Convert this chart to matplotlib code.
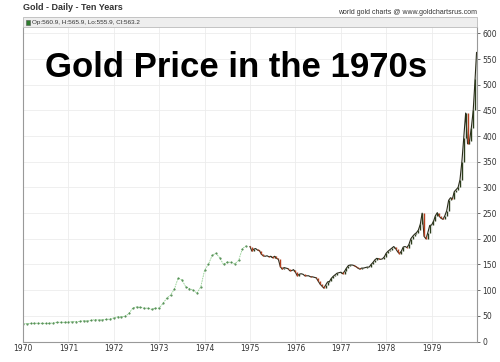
import numpy as np
import matplotlib
matplotlib.use("Agg")
import matplotlib.pyplot as plt
from matplotlib.patches import Rectangle

# monthly closes 1970-1974 (green part)
early_prices = [
    35.0, 35.0, 35.1, 35.6, 35.5, 35.4, 35.3, 35.4, 36.2, 37.5, 37.4, 37.4,
    37.9, 38.7, 38.9, 39.0, 40.5, 40.1, 41.0, 42.8, 42.0, 42.5, 43.0, 43.6,
    46.0, 48.3, 48.3, 49.0, 54.6, 65.0, 67.5, 66.5, 65.0, 64.9, 62.9, 64.9,
    65.1, 74.2, 84.5, 90.5, 102.0, 123.3, 120.0, 106.8, 103.0, 100.1, 94.0, 106.7,
    139.0, 150.0, 168.0, 172.0, 163.0, 150.0, 155.0, 154.0, 151.5, 158.0, 181.0, 186.5,
]

# half-monthly closes 1975-1979 (bar part), last one early Jan 1980
late_prices = [
    185, 176, 180, 181, 178, 177, 170, 167, 166, 167, 165, 166,
    163, 166, 162, 160, 146, 141, 144, 143, 142, 138, 138, 140,
    135, 128, 131, 132, 131, 128, 128, 128, 126, 126, 125, 124,
    118, 112, 108, 104, 110, 116, 117, 123, 127, 130, 133, 134,
    135, 132, 137, 143, 148, 149, 149, 148, 146, 143, 141, 143,
    143, 144, 145, 145, 150, 154, 159, 162, 161, 160, 161, 165,
    172, 176, 179, 182, 185, 181, 175, 171, 176, 184, 185, 183,
    189, 200, 205, 209, 212, 217, 228, 250, 205, 200, 212, 226,
    227, 234, 245, 251, 244, 240, 238, 245, 255, 275, 280, 278,
    292, 296, 300, 315, 350, 397, 445, 385, 390, 416, 450, 512,
    563,
]

years = list(range(1970, 1980))
yticks = list(range(0, 650, 50))

x_early = 1970 + np.arange(len(early_prices)) / 12.0
x_late = 1975 + np.arange(len(late_prices)) / 24.0
x_late[-1] = 1979.99

fig = plt.figure(figsize=(5, 3.62), dpi=100)
ax = fig.add_axes([0.046, 0.0566, 0.908, 0.868])

ax.plot(x_early, early_prices, color="#8fcf8f", lw=0.6, ls=(0, (2, 1)))
ax.plot(x_early, early_prices, ls="none", marker=".", ms=1.0,
        mec="#3c7d3c", mfc="#3c7d3c")

# open = previous close, colour by direction
opens = [early_prices[-1]] + late_prices[:-1]
ax.plot(x_late, late_prices, color="#2a2a1a", lw=0.8)
for xv, o, c in zip(x_late, opens, late_prices):
    col = "#b5401f" if c < o else "#2c3d1c"
    ax.vlines(xv, min(o, c), max(o, c), color=col, lw=1.0)

ax.set_xlim(1970, 1980)
ax.set_ylim(0, 612)
ax.set_xticks(years)
ax.set_xticklabels([str(y) for y in years])
ax.set_yticks(yticks)
ax.yaxis.tick_right()
ax.grid(True, color="#ececec", lw=0.6)
ax.set_axisbelow(True)
ax.tick_params(labelsize=5.5, colors="#333333", length=2, width=0.5, pad=2)
ax.tick_params(axis="x", length=0)
ax.spines["top"].set_visible(False)
for s in ["left", "right", "bottom"]:
    ax.spines[s].set_color("#999999")
    ax.spines[s].set_linewidth(0.8)

# header
fig.text(0.046, 0.978, "Gold - Daily - Ten Years", fontsize=6.5,
         fontweight="bold", color="#333333", va="center",
         family="Liberation Sans")
fig.text(0.954, 0.966, "world gold charts @ www.goldchartsrus.com",
         fontsize=5, color="#333333", va="center", ha="right",
         family="Liberation Sans")
fig.patches.append(Rectangle((0.046, 0.925), 0.908, 0.027,
                             transform=fig.transFigure, fc="#eeeeee",
                             ec="#bbbbbb", lw=0.6))
fig.patches.append(Rectangle((0.051, 0.932), 0.009, 0.013,
                             transform=fig.transFigure, fc="#2e7d2e",
                             ec="#555555", lw=0.4))
fig.text(0.064, 0.9385, "Op:560.9, H:565.9, Lo:555.9, Cl:563.2",
         fontsize=4.6, color="#333333", va="center",
         family="Liberation Sans")

fig.text(0.09, 0.788, "Gold Price in the 1970s", fontsize=25,
         fontweight="bold", color="black", va="baseline",
         family="Liberation Sans")

fig.savefig("out.png", dpi=100, facecolor="white")
